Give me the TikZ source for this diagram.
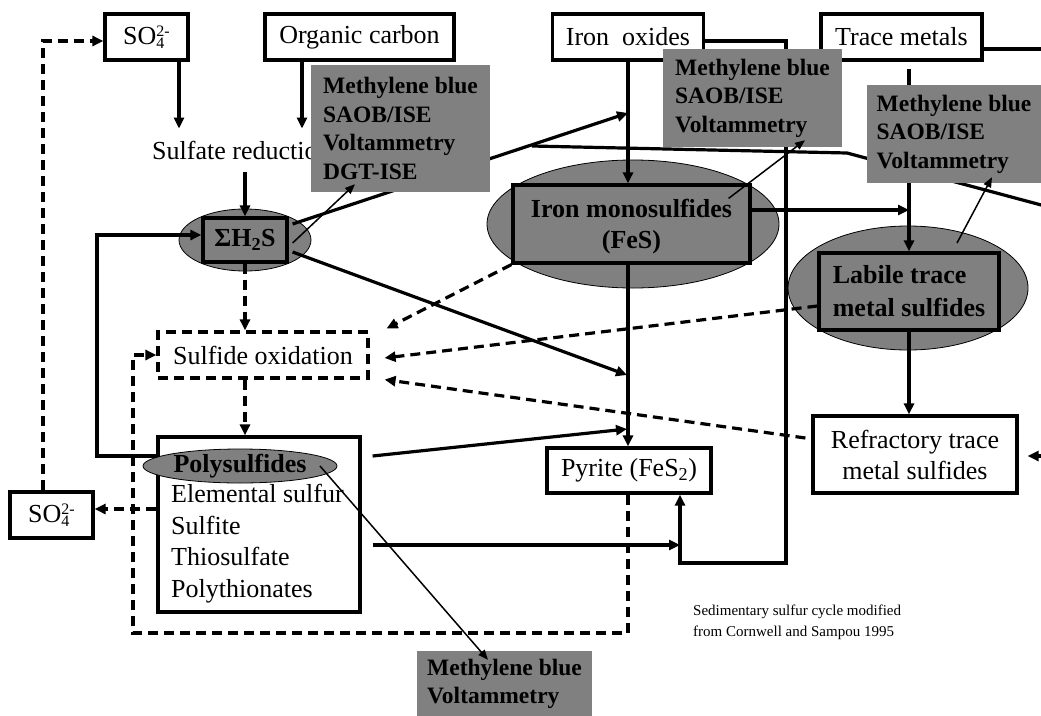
\documentclass[tikz,border=0pt]{standalone}
\usepackage{fontspec}
\setmainfont{Liberation Serif}
\usetikzlibrary{positioning, arrows.meta, shapes.geometric, calc}

\definecolor{probegray}{HTML}{808080}
\newcommand{\sulfion}{SO\rlap{\raisebox{-4pt}{\fontsize{16}{16}\selectfont 4}}\raisebox{8pt}{\fontsize{16}{16}\selectfont 2-}}

\begin{document}
\begin{tikzpicture}[x=1pt, y=-1pt,
        every node/.style={inner sep=0pt},
        txt/.style={font=\fontsize{26}{31}\selectfont},
        pool/.style={txt, rectangle, draw, line width=3.2pt, fill=white},
        oxbox/.style={pool, dash pattern=on 10pt off 6pt},
        method/.style={rectangle, fill=probegray, align=left, font=\fontsize{23.5}{28.5}\selectfont\bfseries},
        cloud/.style={ellipse, draw=black, line width=0.8pt, fill=probegray},
        core/.style={rectangle, draw, line width=3.2pt, fill=probegray, align=center, font=\fontsize{26}{31}\selectfont\bfseries},
        flow/.style={line width=3.2pt, -{Triangle[length=11pt,width=10pt]}},
        dflow/.style={flow, dash pattern=on 10pt off 6pt},
        probe/.style={line width=1.5pt, -{Triangle[length=10pt,width=8pt]}}
    ]
    \useasboundingbox (0,0) rectangle (1041,715);
    % Sources (top row)
    \node[pool, minimum width=83pt, minimum height=46pt] (so4top) at (146.5,37) {\sulfion};
    \node[pool, minimum width=189pt, minimum height=46pt] (org) at (359.5,37) {Organic carbon};
    \node[pool, minimum width=151pt, minimum height=46pt] (feox) at (628,37) {Iron~~oxides};
    \node[pool, minimum width=161pt, minimum height=46pt] (trace) at (901.5,37) {Trace metals};
    % Processes
    \node[txt, anchor=west, inner sep=4pt] (sulfred) at (148,150) {Sulfate reduction};
    \node[oxbox, minimum width=210pt, minimum height=46pt] (sox) at (263,355) {Sulfide oxidation};
    % Sulfide pools
    \node[cloud, minimum width=132pt, minimum height=62pt] (h2s) at (245,240) {};
    \node[core, minimum width=84pt, minimum height=44pt] (h2sbox) at (245,240) {ΣH\textsubscript{2}S};
    \node[cloud, minimum width=292pt, minimum height=128pt] (fes) at (633,224) {};
    \node[core, minimum width=237pt, minimum height=78pt, text depth=0pt] (fesbox) at (631.5,224) {Iron monosulfides\\(FeS)};
    \node[cloud, minimum width=240pt, minimum height=124pt] (lab) at (908,288) {};
    \node[core, minimum width=180pt, minimum height=77pt, align=left, font=\fontsize{26}{33}\selectfont\bfseries] (labbox) at (909,291.5) {Labile trace\\metal sulfides};
    \node[pool, minimum width=164pt, minimum height=45pt] (pyrite) at (629,470.5) {Pyrite (FeS\textsubscript{2})};
    \node[pool, minimum width=204pt, minimum height=77pt, align=center] (refr) at (915,454.5) {Refractory trace\\metal sulfides};
    % Intermediates
    \node[pool, minimum width=202pt, minimum height=175pt] (polybox) at (259,524.5) {};
    \node[anchor=west, align=left, font=\fontsize{26}{31.7}\selectfont] (polylist) at (171,543.5) {Elemental sulfur\\Sulfite\\Thiosulfate\\Polythionates};
    \node[cloud, minimum width=194pt, minimum height=34pt, font=\fontsize{26}{31}\selectfont\bfseries] (polys) at (240,466) {Polysulfides};
    \node[pool, minimum width=83pt, minimum height=46pt] (so4bot) at (51.5,515) {\sulfion};
    % Caption
    \node[anchor=north west, align=left, font=\fontsize{15}{21}\selectfont] (note) at (693,605) {Sedimentary sulfur cycle modified\\from Cornwell and Sampou 1995};
    % Bend points and free ends
    \coordinate (loopL) at (97,456);
    \coordinate (feoxmid) at (628,113);
    \coordinate (pyin1) at (627,375);
    \coordinate (pyin2) at (627,429);
    \coordinate (trin) at (909,210);
    \coordinate (pyloop) at (680,545);
    \coordinate (feR) at (786,563);
    \coordinate (pyB) at (680,563);
    \coordinate (dlr) at (628,633);
    \coordinate (dll) at (133,633);
    \coordinate (hsA) at (532,146);
    \coordinate (hsB) at (847,153);
    \coordinate (hsC) at (1045,206);
    \coordinate (trout) at (1045,49);
    \coordinate (refrin) at (1045,456);
    % Sulfate reduction
    \draw[flow, shorten >=8pt] ([xshift=32.5pt]so4top.south) -- ([xshift=32.5pt]so4top.south |- sulfred.north);
    \draw[flow, shorten >=8pt] ([xshift=-57.5pt]org.south) -- ([xshift=-57.5pt]org.south |- sulfred.north);
    \draw[flow, shorten <=9pt] (h2sbox.north |- sulfred.south) -- (h2sbox.north);
    % Sulfide pathways
    \draw[flow] (polybox.west |- loopL) -- (loopL) |- ([yshift=5pt]h2sbox.west);
    \draw[flow] ([xshift=4pt,yshift=16pt]h2sbox.east) -- (feoxmid);
    \draw[flow] ([xshift=4pt,yshift=-12pt]h2sbox.east) -- (pyin1);
    \draw[dflow] (h2sbox.south) -- (sox.north -| h2sbox.south);
    \draw[dflow] (sox.south -| h2sbox.south) -- (polybox.north -| h2sbox.south);
    % Iron pathways
    \draw[flow] (feox.south) -- (feox.south |- fesbox.north);
    \draw[flow] (fesbox.south -| feox.south) -- (pyrite.north -| feox.south);
    \draw[flow] ([yshift=14pt]fesbox.east) -- (trin);
    \draw[flow] ([yshift=-4pt]feox.east) -| (feR) -- (pyB) -- (pyB |- pyrite.south);
    \draw[flow] ([xshift=11pt,yshift=68.5pt]polybox.east) -- (pyin2);
    \draw[flow] ([xshift=11pt,yshift=-20.5pt]polybox.east) -- (pyloop);
    % Trace metal pathways
    \draw[flow, shorten <=7pt] (labbox.north |- trace.south) -- (labbox.north);
    \draw[flow] (labbox.south) -- (labbox.south |- refr.north);
    \draw[line width=3.2pt] ([yshift=-12pt]trace.east) -- (trout);
    \draw[flow, shorten >=9pt] (refrin) -- (refrin -| refr.east);
    \draw[line width=3.2pt] (hsA) -- (hsB) -- (hsC);
    % Oxidation (dashed)
    \draw[dflow] (fesbox.south west) -- ([xshift=17pt,yshift=2pt]sox.north east);
    \draw[dflow] ([yshift=-14.5pt]labbox.west) -- ([xshift=15pt,yshift=-3pt]sox.east);
    \draw[dflow] ([xshift=-6pt,yshift=16.5pt]refr.west) -- ([xshift=15pt]sox.south east);
    \draw[dflow] (pyrite.south -| feox.south) -- (dlr) -- (dll) |- (sox.west);
    \draw[dflow] ([yshift=15.5pt]polybox.west) -- ([yshift=15.5pt]polybox.west -| so4bot.east);
    \draw[dflow] ([xshift=-8.5pt]so4bot.north) |- ([yshift=-4pt]so4top.west);
    % Measurement methods
    \node[method, minimum width=179pt, minimum height=127pt] (mb1) at (400.5,128.5) {Methylene blue\\SAOB/ISE\\Voltammetry\\DGT-ISE};
    \node[method, minimum width=179pt, minimum height=98pt] (mb2) at (752.5,98) {Methylene blue\\SAOB/ISE\\Voltammetry};
    \node[method, minimum width=174pt, minimum height=98pt] (mb3) at (954,134) {Methylene blue\\SAOB/ISE\\Voltammetry};
    \node[method, minimum width=175pt, minimum height=66pt] (mb4) at (504.5,684) {Methylene blue\\Voltammetry};
    \draw[probe] ([xshift=4pt,yshift=-3pt]h2sbox.east) -- ([xshift=-45.5pt,yshift=8pt]mb1.south);
    \draw[probe] ([xshift=-23pt,yshift=-15pt]fesbox.north east) -- ([xshift=52.5pt,yshift=7pt]mb2.south);
    \draw[probe] ([xshift=49pt,yshift=45pt]lab.center) -- ([xshift=38pt,yshift=6pt]mb3.south);
    \draw[probe] ([xshift=80pt]polys.center) -- ([xshift=-16.5pt,yshift=-9pt]mb4.north);
\end{tikzpicture}
\end{document}
